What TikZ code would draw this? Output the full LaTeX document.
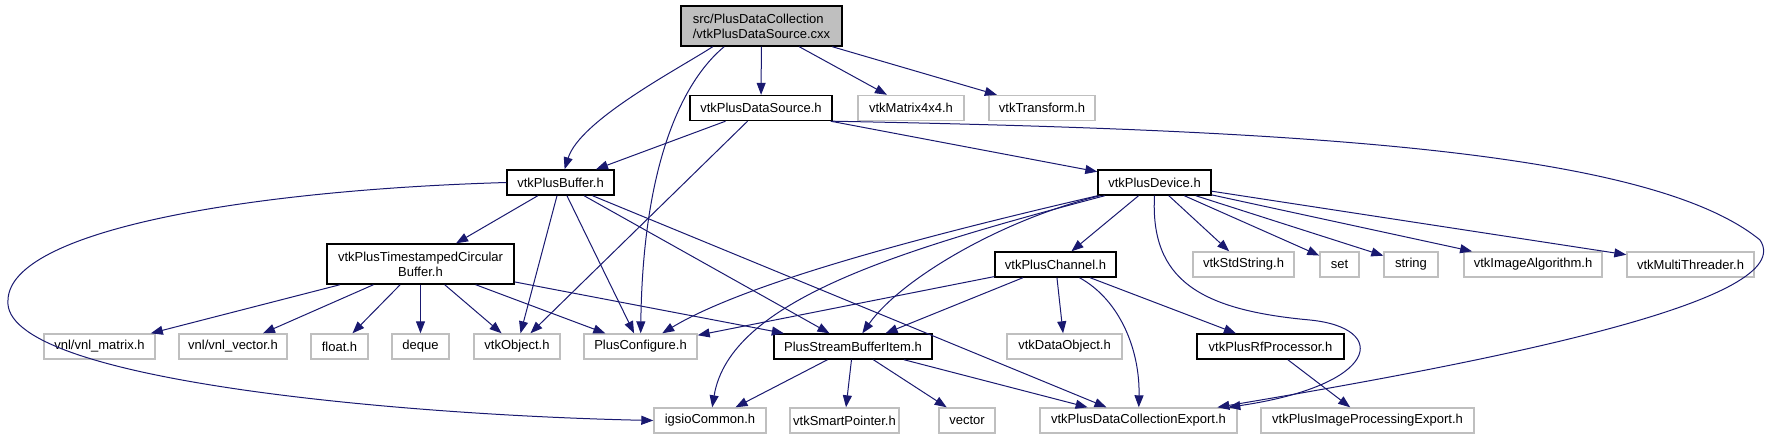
\documentclass[tikz,border=0pt]{standalone}
\usepackage{fontspec}
\setmainfont{Liberation Sans}
\usetikzlibrary{arrows.meta}
\definecolor{edgeblue}{RGB}{25,25,112}
\definecolor{boxgray}{RGB}{191,191,191}
\begin{document}
\begin{tikzpicture}[x=1pt,y=-1pt,
    file/.style={draw=boxgray, line width=1.4pt, fill=white, minimum height=25pt,
      inner sep=0pt, font=\fontsize{13}{15}\selectfont},
    doc/.style={file, draw=black},
    inc/.style={-{Triangle[length=12pt,width=9pt]}, draw=edgeblue, fill=none, line width=1pt}]
    \useasboundingbox (0,0) rectangle (1779,440);
    % files
    \node[doc, fill=boxgray, minimum width=161pt, minimum height=40pt, align=left] (srcfile) at (761.5,26) {src/PlusDataCollection\\/vtkPlusDataSource.cxx};
    \node[doc, minimum width=142pt] (dsrc) at (761,108) {vtkPlusDataSource.h};
    \node[file, minimum width=106pt] (mat44) at (911,108) {vtkMatrix4x4.h};
    \node[file, minimum width=106pt] (xform) at (1042,108) {vtkTransform.h};
    \node[doc, minimum width=107pt] (buffer) at (560.5,182.5) {vtkPlusBuffer.h};
    \node[doc, minimum width=113pt] (device) at (1154.5,182.5) {vtkPlusDevice.h};
    \node[doc, minimum width=187pt, minimum height=40pt, align=center] (tsbuf) at (420.5,264) {vtkPlusTimestampedCircular\\Buffer.h};
    \node[doc, minimum width=121pt] (channel) at (1055.5,264.5) {vtkPlusChannel.h};
    \node[file, minimum width=101pt] (stdstr) at (1243.5,264.5) {vtkStdString.h};
    \node[file, minimum width=39pt] (stlset) at (1339.5,264.5) {set};
    \node[file, minimum width=54pt] (stlstr) at (1411,264.5) {string};
    \node[file, minimum width=138pt] (imgalg) at (1533,264.5) {vtkImageAlgorithm.h};
    \node[file, minimum width=127pt] (mthread) at (1690.5,264.5) {vtkMultiThreader.h};
    \node[file, minimum width=111pt] (vnlmat) at (99.5,346.5) {vnl/vnl\_matrix.h};
    \node[file, minimum width=108pt] (vnlvec) at (233,346.5) {vnl/vnl\_vector.h};
    \node[file, minimum width=57pt] (floath) at (339.5,346.5) {float.h};
    \node[file, minimum width=57pt] (deque) at (420.5,346.5) {deque};
    \node[file, minimum width=86pt] (object) at (517,346.5) {vtkObject.h};
    \node[file, minimum width=113pt] (config) at (640.5,346.5) {PlusConfigure.h};
    \node[doc, minimum width=158pt] (sbitem) at (853,346.5) {PlusStreamBufferItem.h};
    \node[file, minimum width=115pt] (dataobj) at (1064.5,346.5) {vtkDataObject.h};
    \node[doc, minimum width=147pt] (rfproc) at (1270.5,346.5) {vtkPlusRfProcessor.h};
    \node[file, minimum width=112pt] (igsio) at (710,420.5) {igsioCommon.h};
    \node[file, minimum width=109pt] (smartptr) at (844.5,420.5) {vtkSmartPointer.h};
    \node[file, minimum width=56pt] (vector) at (967,420.5) {vector};
    \node[file, minimum width=197pt] (dcexport) at (1138.5,420.5) {vtkPlusDataCollectionExport.h};
    \node[file, minimum width=213pt] (ipexport) at (1367.5,420.5) {vtkPlusImageProcessingExport.h};
    % includes of the source file
    \draw[inc] (srcfile.203) .. controls (680,68) and (580,120) .. (buffer);
    \draw[inc] (srcfile.209) .. controls (684,80) and (643,160) .. (config);
    \draw[inc] (srcfile) -- (dsrc);
    \draw[inc] (srcfile) -- (mat44);
    \draw[inc] (srcfile) -- (xform);
    % vtkPlusDataSource.h
    \draw[inc] (dsrc) -- (buffer);
    \draw[inc] (dsrc) -- (object);
    \draw[inc] (dsrc) -- (device);
    \draw[inc] (dsrc.south east) .. controls (1300,130) and (1650,150) .. (1760,240)
        .. controls (1800,300) and (1500,360) .. (dcexport);
    % vtkPlusBuffer.h
    \draw[inc] (buffer.west) .. controls (250,190) and (10,230) .. (8,300)
        .. controls (0,380) and (400,415) .. (igsio.west);
    \draw[inc] (buffer) -- (tsbuf);
    \draw[inc] (buffer) -- (object);
    \draw[inc] (buffer) -- (config);
    \draw[inc] (buffer) -- (sbitem);
    \draw[inc] (buffer) -- (dcexport);
    % vtkPlusTimestampedCircularBuffer.h
    \draw[inc] (tsbuf) -- (vnlmat);
    \draw[inc] (tsbuf) -- (vnlvec);
    \draw[inc] (tsbuf) -- (floath);
    \draw[inc] (tsbuf) -- (deque);
    \draw[inc] (tsbuf) -- (object);
    \draw[inc] (tsbuf) -- (config);
    \draw[inc] (tsbuf) -- (sbitem);
    % vtkPlusDevice.h
    \draw[inc] (device) .. controls (950,230) and (750,280) .. (config);
    \draw[inc] (device) .. controls (900,250) and (730,300) .. (igsio);
    \draw[inc] (device) .. controls (1000,220) and (900,280) .. (sbitem);
    \draw[inc] (device) -- (channel);
    \draw[inc] (device.south) .. controls (1150,280) and (1200,310) .. (1310,320)
        .. controls (1390,328) and (1380,385) .. (dcexport);
    \draw[inc] (device) -- (stdstr);
    \draw[inc] (device) -- (stlset);
    \draw[inc] (device) -- (stlstr);
    \draw[inc] (device) -- (imgalg);
    \draw[inc] (device) -- (mthread);
    % vtkPlusChannel.h
    \draw[inc] (channel) -- (config);
    \draw[inc] (channel) -- (sbitem);
    \draw[inc] (channel) -- (dataobj);
    \draw[inc] (channel) .. controls (1120,300) and (1140,350) .. (dcexport);
    \draw[inc] (channel) -- (rfproc);
    % PlusStreamBufferItem.h
    \draw[inc] (sbitem) -- (igsio);
    \draw[inc] (sbitem) -- (smartptr);
    \draw[inc] (sbitem) -- (vector);
    \draw[inc] (sbitem) -- (dcexport);
    % vtkPlusRfProcessor.h
    \draw[inc] (rfproc) -- (ipexport);
\end{tikzpicture}
\end{document}
